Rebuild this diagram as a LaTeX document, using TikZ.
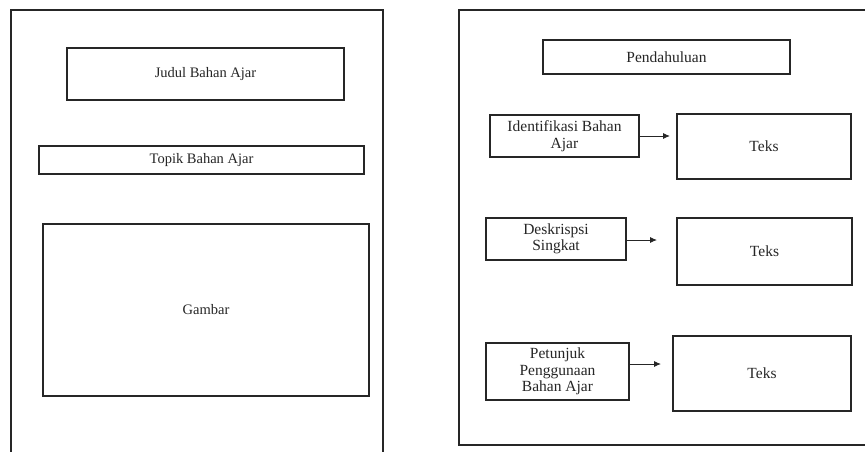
\documentclass[tikz,border=0pt]{standalone}
\usepackage{fontspec}
\setmainfont{Liberation Serif}
\usetikzlibrary{arrows.meta}
\tikzset{
  frame/.style={draw=black!85, line width=1.4pt},
  boxl/.style={draw=black!85, line width=1.8pt, inner sep=0pt, align=center,
    font=\fontsize{14.5}{16}\selectfont, text=black!85},
  boxr/.style={draw=black!85, line width=1.8pt, inner sep=0pt, align=center,
    font=\fontsize{15.5}{16.5}\selectfont, text=black!85},
  conn/.style={draw=black!85, line width=0.9pt, -{Latex[length=7pt,width=6pt]}}
}
\begin{document}
\begin{tikzpicture}[x=1pt,y=-1pt]
\clip (0,0) rectangle (865,452);
\fill[white] (0,0) rectangle (865,452);
% frames
\draw[frame] (11,10) rectangle (383,470);
\draw[frame] (459,10) rectangle (880,445);
% left page
\node[boxl, minimum width=277pt, minimum height=52pt] (judul) at (205.5,74) {Judul Bahan Ajar};
\node[boxl, minimum width=325pt, minimum height=28pt] (topik) at (201.5,160) {Topik Bahan Ajar};
\node[boxl, minimum width=326pt, minimum height=172pt] (gambar) at (206,310) {Gambar};
% right page
\node[boxr, minimum width=247pt, minimum height=34pt] (pend) at (666.5,57) {Pendahuluan};
\node[boxr, minimum width=149pt, minimum height=42pt] (ident) at (564.5,136) {Identifikasi Bahan\\Ajar};
\node[boxr, minimum width=174pt, minimum height=65pt] (teks1) at (764,146.5) {Teks};
\node[boxr, minimum width=140pt, minimum height=42pt] (desk) at (556,239) {Deskrispsi\\Singkat};
\node[boxr, minimum width=175pt, minimum height=67pt] (teks2) at (764.5,251.5) {Teks};
\node[boxr, minimum width=143pt, minimum height=57pt] (petunjuk) at (557.5,371.5) {Petunjuk\\Penggunaan\\Bahan Ajar};
\node[boxr, minimum width=178pt, minimum height=75pt] (teks3) at (762,373.5) {Teks};
% arrows
\coordinate (a1) at (670,136);
\coordinate (a2) at (657,240);
\coordinate (a3) at (661,364);
\draw[conn] (ident.east |- a1) -- (a1);
\draw[conn] (desk.east |- a2) -- (a2);
\draw[conn] (petunjuk.east |- a3) -- (a3);
\end{tikzpicture}
\end{document}
